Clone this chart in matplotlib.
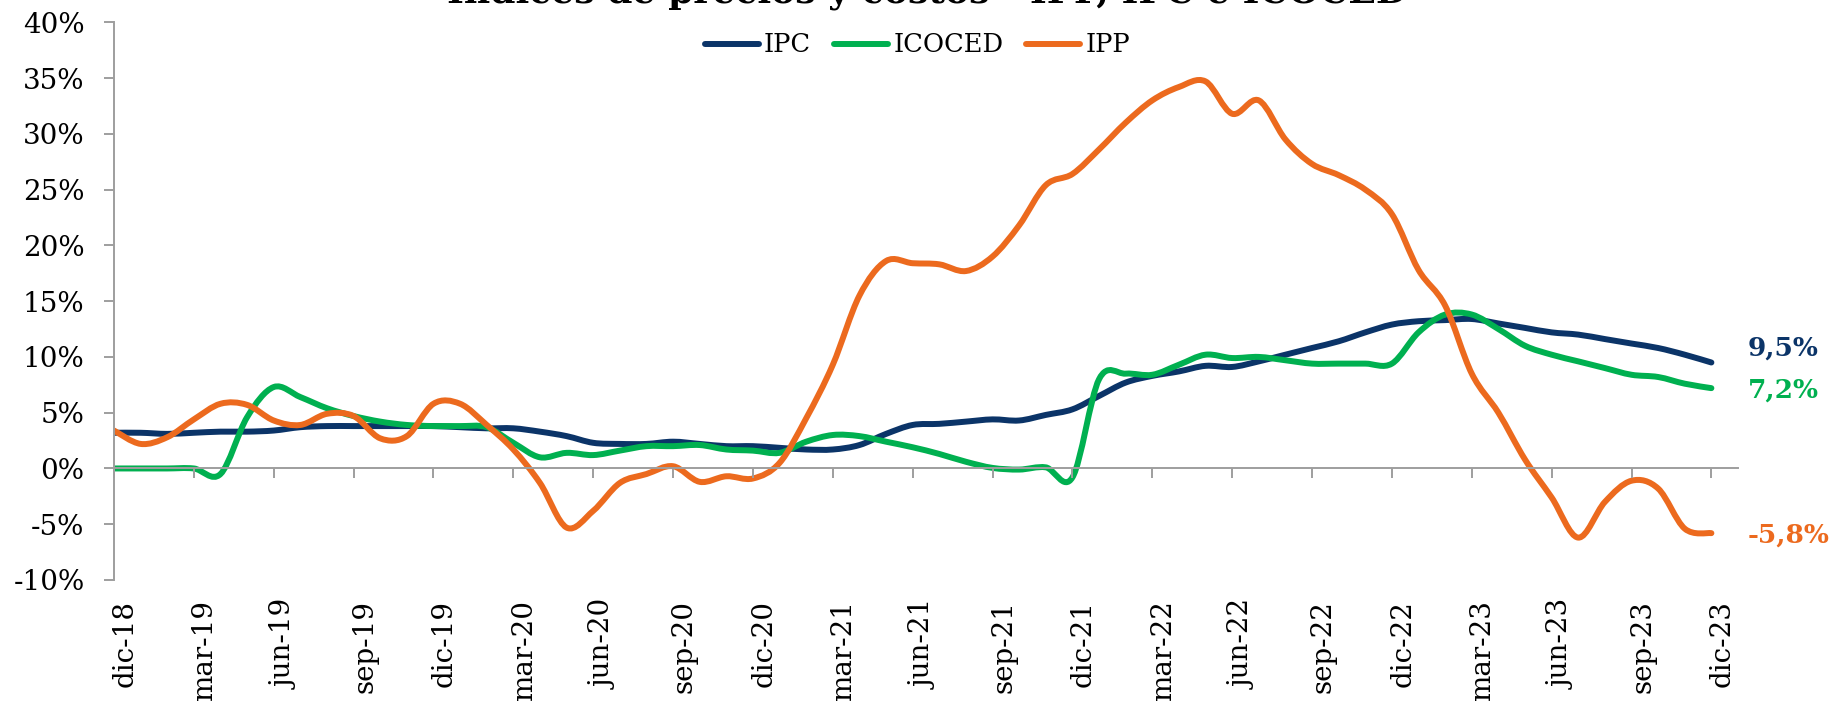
# Índices de precios y costos: IPC, ICOCED e IPP (variación anual).

import numpy as np
import matplotlib
matplotlib.use("Agg")
import matplotlib.pyplot as plt
from matplotlib.path import Path
from matplotlib.patches import PathPatch
from matplotlib.lines import Line2D
from matplotlib import transforms

plt.rcParams["font.family"] = ["DejaVu Serif"]

# Monthly data, dic-18 .. dic-23 (%)
months = np.arange(61)
tick_pos = list(range(0, 61, 3))
tick_labels = [
    "dic-18", "mar-19", "jun-19", "sep-19", "dic-19", "mar-20", "jun-20",
    "sep-20", "dic-20", "mar-21", "jun-21", "sep-21", "dic-21", "mar-22",
    "jun-22", "sep-22", "dic-22", "mar-23", "jun-23", "sep-23", "dic-23",
]

ipc = [
    3.2, 3.2, 3.1, 3.2, 3.3, 3.3, 3.4, 3.7, 3.8, 3.8, 3.8, 3.8,
    3.8, 3.7, 3.6, 3.6, 3.3, 2.9, 2.3, 2.2, 2.2, 2.4, 2.2, 2.0,
    2.0, 1.85, 1.7, 1.7, 2.1, 3.1, 3.9, 4.0, 4.2, 4.4, 4.3, 4.8,
    5.3, 6.5, 7.7, 8.3, 8.7, 9.2, 9.1, 9.6, 10.2, 10.8, 11.4, 12.2,
    12.9, 13.2, 13.3, 13.4, 13.0, 12.6, 12.2, 12.0, 11.6, 11.2, 10.8, 10.2,
    9.5,
]
icoced = [
    0.0, 0.0, 0.0, 0.0, -0.5, 4.6, 7.3, 6.4, 5.4, 4.7, 4.2, 3.9,
    3.8, 3.8, 3.7, 2.3, 1.0, 1.4, 1.2, 1.6, 2.0, 2.0, 2.1, 1.7,
    1.6, 1.4, 2.4, 3.0, 2.9, 2.4, 1.9, 1.3, 0.6, 0.05, -0.1, 0.1,
    -0.8, 8.0, 8.5, 8.4, 9.3, 10.2, 9.9, 10.0, 9.7, 9.4, 9.4, 9.4,
    9.4, 12.2, 13.8, 13.8, 12.5, 11.0, 10.2, 9.6, 9.0, 8.4, 8.2, 7.6,
    7.2,
]
ipp = [
    3.4, 2.2, 2.8, 4.4, 5.8, 5.7, 4.3, 3.9, 4.9, 4.7, 2.7, 2.9,
    5.8, 5.8, 3.9, 1.7, -1.3, -5.3, -3.8, -1.3, -0.5, 0.2, -1.2, -0.7,
    -0.9, 0.5, 4.5, 9.3, 15.5, 18.6, 18.4, 18.3, 17.7, 19.0, 21.8, 25.4,
    26.4, 28.6, 31.0, 33.0, 34.2, 34.7, 31.8, 33.0, 29.5, 27.3, 26.3, 25.0,
    22.8, 17.8, 14.6, 8.5, 5.0, 0.8, -2.6, -6.2, -3.0, -1.1, -1.8, -5.4,
    -5.8,
]

series = [
    ("IPC", ipc, "#0B3468"),
    ("ICOCED", icoced, "#00B050"),
    ("IPP", ipp, "#EC6A1E"),
]
end_labels = {"IPC": ("9,5%", 14), "ICOCED": ("7,2%", -2), "IPP": ("-5,8%", -2)}

gray = "#9E9E9E"
lw = 4.3


# Excel-like smoothed line as Bezier path
def smooth_path(xs, ys):
    pts = np.column_stack([xs, ys]).astype(float)
    ext = np.vstack([pts[0], pts, pts[-1]])
    verts = [pts[0]]
    codes = [Path.MOVETO]
    for i in range(len(pts) - 1):
        p0, p1, p2, p3 = ext[i], ext[i + 1], ext[i + 2], ext[i + 3]
        verts += [p1 + (p2 - p0) / 6, p2 - (p3 - p1) / 6, p2]
        codes += [Path.CURVE4] * 3
    return Path(verts, codes)


fig = plt.figure(figsize=(18.31, 7.01), dpi=100)
ax = fig.add_axes([114 / 1831, 121 / 701, 1624 / 1831, 557.7 / 701])

handles = []
for name, vals, color in series:
    patch = PathPatch(smooth_path(months, vals), fill=False, edgecolor=color,
                      lw=lw, capstyle="round", joinstyle="round")
    ax.add_patch(patch)
    handles.append(Line2D([], [], color=color, lw=lw, solid_capstyle="round"))
    text, dy = end_labels[name]
    ax.annotate(text, xy=(months[-1], vals[-1]), xytext=(36, dy),
                textcoords="offset pixels", ha="left", va="center",
                color=color, fontsize=19, fontweight="bold")

ax.set_xlim(0, 61)
ax.set_ylim(-10, 40)

# Axes styling
for side in ["top", "right"]:
    ax.spines[side].set_visible(False)
ax.spines["left"].set_color(gray)
ax.spines["left"].set_linewidth(1.4)
ax.spines["bottom"].set_position(("data", 0))
ax.spines["bottom"].set_color(gray)
ax.spines["bottom"].set_linewidth(1.4)

yticks = list(range(-10, 41, 5))
ax.set_yticks(yticks)
ax.set_yticklabels([f"{v}%" for v in yticks])
ax.tick_params(axis="y", direction="out", length=7.2, width=1.4, color=gray,
               labelsize=20, pad=14)
ax.set_xticks(tick_pos)
ax.tick_params(axis="x", direction="out", length=7.2, width=1.4, color=gray,
               labelbottom=False)

# Category labels at bottom of plot area
label_trans = transforms.blended_transform_factory(ax.transData, ax.transAxes) + \
    transforms.ScaledTranslation(11 / 100, -20 / 100, fig.dpi_scale_trans)
for pos, lab in zip(tick_pos, tick_labels):
    ax.text(pos, 0, lab, transform=label_trans, rotation=90, ha="center",
            va="top", fontsize=20)

fig.legend(handles, [s[0] for s in series], loc="center",
           bbox_to_anchor=(917.5 / 1831, 1 - 45 / 701), ncol=3, frameon=False,
           handlelength=2.1, handletextpad=0.2, columnspacing=0.9, fontsize=18.5)

# Title sits partly above the canvas, as in the original export
fig.text(927 / 1831, 1 - 3 / 701, "Índices de precios y costos - IPP, IPC e ICOCED",
         ha="center", va="baseline", fontsize=26, fontweight="bold")

fig.savefig("out.png", dpi=100)
